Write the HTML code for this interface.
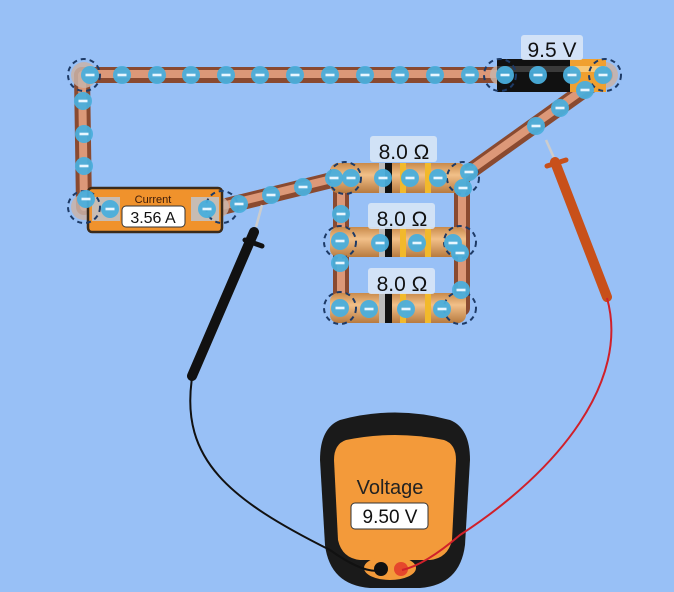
<!DOCTYPE html>
<html><head><meta charset="utf-8"><style>
html,body{margin:0;padding:0;background:#98c0f6;}
svg{display:block;}
text{font-family:"Liberation Sans",sans-serif;}
</style></head><body>
<svg width="674" height="592" viewBox="0 0 674 592" xmlns="http://www.w3.org/2000/svg">
<defs>
<linearGradient id="rs" x1="0" y1="0" x2="0" y2="1">
<stop offset="0" stop-color="#c98a4a"/><stop offset="0.4" stop-color="#f2c089"/><stop offset="1" stop-color="#b77a3f"/></linearGradient>
<g id="e"><circle r="9" fill="#4aaedc" opacity="0.95"/><rect x="-4.5" y="-1.3" width="9" height="2.6" fill="#e8f6ff"/></g>
</defs>
<!-- wires -->
<g stroke-linecap="round" fill="none">
<g stroke="#8a4a30" stroke-width="16">
<line x1="84" y1="75" x2="500" y2="75"/>
<line x1="82" y1="75" x2="84" y2="207"/>
<line x1="222" y1="207" x2="340" y2="178"/>
<line x1="605" y1="75" x2="465" y2="175"/>
<line x1="341" y1="178" x2="341" y2="308"/>
<line x1="462" y1="178" x2="462" y2="308"/>
</g>
<g stroke="#dc9878" stroke-width="8">
<line x1="84" y1="74" x2="500" y2="74"/>
<line x1="82" y1="75" x2="84" y2="207"/>
<line x1="222" y1="206" x2="340" y2="177"/>
<line x1="605" y1="74" x2="465" y2="174"/>
<line x1="341" y1="178" x2="341" y2="308"/>
<line x1="462" y1="178" x2="462" y2="308"/>
</g>
</g>
<g fill="#c9b3a8" opacity="0.85">
<circle cx="84" cy="75" r="13"/><circle cx="84" cy="207" r="13"/><circle cx="605" cy="75" r="13"/><circle cx="500" cy="75" r="10"/>
<circle cx="218" cy="207" r="11"/>
</g>
<!-- resistors -->
<g>
<rect x="330" y="163" width="136" height="30" rx="8" fill="url(#rs)"/>
<rect x="330" y="227" width="136" height="30" rx="8" fill="url(#rs)"/>
<rect x="330" y="293" width="136" height="30" rx="8" fill="url(#rs)"/>
<g fill="#bcbcbc"><rect x="379" y="163" width="6" height="30"/><rect x="379" y="227" width="6" height="30"/><rect x="379" y="293" width="6" height="30"/></g>
<g fill="#111"><rect x="385" y="163" width="7" height="30"/><rect x="385" y="227" width="7" height="30"/><rect x="385" y="293" width="7" height="30"/></g>
<g fill="#f2b92b"><rect x="400" y="163" width="6" height="30"/><rect x="425" y="163" width="6" height="30"/>
<rect x="400" y="227" width="6" height="30"/><rect x="425" y="227" width="6" height="30"/>
<rect x="400" y="293" width="6" height="30"/><rect x="425" y="293" width="6" height="30"/></g>
</g>
<!-- battery -->
<rect x="497" y="59" width="75" height="33" fill="#111"/>
<rect x="497" y="66" width="75" height="6" fill="#3a3a3a"/>
<rect x="570" y="59" width="36" height="33" fill="#f0a030"/>
<rect x="570" y="66" width="36" height="6" fill="#f8c878"/>
<rect x="521" y="35" width="62" height="25" rx="3" fill="#d8e6f7" opacity="0.9"/>
<text x="552" y="57" font-size="21" text-anchor="middle" fill="#111">9.5 V</text>
<g fill="#d8e6f7" opacity="0.9"><rect x="370" y="136" width="67" height="26" rx="3"/><rect x="368" y="203" width="67" height="26" rx="3"/><rect x="368" y="268" width="67" height="26" rx="3"/></g>
<g font-size="21" text-anchor="middle" fill="#111"><text x="404" y="159">8.0 Ω</text><text x="402" y="226">8.0 Ω</text><text x="402" y="291">8.0 Ω</text></g>
<!-- ammeter -->
<rect x="88" y="188" width="134" height="44" rx="4" fill="#f0922c" stroke="#3a2a1a" stroke-width="2.5"/>
<rect x="92" y="197" width="28" height="24" fill="#c7bcb3"/><rect x="191" y="197" width="28" height="24" fill="#c7bcb3"/>
<text x="153" y="203" font-size="11" text-anchor="middle" fill="#3a1a0a">Current</text>
<rect x="122" y="206" width="63" height="21" rx="4" fill="#fff" stroke="#333"/>
<text x="153" y="223" font-size="16" text-anchor="middle" fill="#111">3.56 A</text>
<g fill="none" stroke="#1d3a66" stroke-width="2" stroke-dasharray="5,4">
<circle cx="84" cy="75" r="16"/><circle cx="84" cy="207" r="16"/><circle cx="222" cy="207" r="16"/>
<circle cx="500" cy="75" r="16"/><circle cx="605" cy="75" r="16"/>
<circle cx="345" cy="178" r="16"/><circle cx="463" cy="178" r="16"/>
<circle cx="340" cy="242" r="16"/><circle cx="460" cy="242" r="16"/>
<circle cx="340" cy="308" r="16"/><circle cx="460" cy="308" r="16"/>
</g>
<g>
<use href="#e" x="90" y="75"/><use href="#e" x="122" y="75"/><use href="#e" x="157" y="75"/><use href="#e" x="191" y="75"/><use href="#e" x="226" y="75"/><use href="#e" x="260" y="75"/><use href="#e" x="295" y="75"/><use href="#e" x="330" y="75"/><use href="#e" x="365" y="75"/><use href="#e" x="400" y="75"/><use href="#e" x="435" y="75"/><use href="#e" x="470" y="75"/><use href="#e" x="505" y="75"/><use href="#e" x="538" y="75"/><use href="#e" x="572" y="75"/><use href="#e" x="603" y="75"/>
<use href="#e" x="83" y="101"/><use href="#e" x="84" y="134"/><use href="#e" x="84" y="166"/><use href="#e" x="86" y="199"/><use href="#e" x="110" y="209"/><use href="#e" x="207" y="209"/>
<use href="#e" x="239" y="204"/><use href="#e" x="271" y="195"/><use href="#e" x="303" y="187"/><use href="#e" x="334" y="178"/>
<use href="#e" x="585" y="90"/><use href="#e" x="560" y="108"/><use href="#e" x="536" y="126"/>
<use href="#e" x="351" y="178"/><use href="#e" x="383" y="178"/><use href="#e" x="410" y="178"/><use href="#e" x="438" y="178"/><use href="#e" x="469" y="172"/><use href="#e" x="463" y="188"/>
<use href="#e" x="341" y="214"/><use href="#e" x="340" y="241"/><use href="#e" x="380" y="243"/><use href="#e" x="417" y="243"/><use href="#e" x="453" y="243"/><use href="#e" x="460" y="253"/>
<use href="#e" x="340" y="263"/><use href="#e" x="461" y="290"/><use href="#e" x="340" y="308"/><use href="#e" x="369" y="309"/><use href="#e" x="406" y="309"/><use href="#e" x="442" y="309"/>
</g>
<!-- black probe -->
<line x1="262" y1="205" x2="256" y2="227" stroke="#ccc" stroke-width="2.5"/>
<line x1="254" y1="232" x2="192" y2="376" stroke="#111" stroke-width="10" stroke-linecap="round"/>
<line x1="245" y1="240" x2="262" y2="246" stroke="#111" stroke-width="5" stroke-linecap="round"/>
<!-- red probe -->
<line x1="546" y1="140" x2="554" y2="158" stroke="#ccc" stroke-width="2.5"/>
<line x1="555" y1="162" x2="607" y2="297" stroke="#c8501a" stroke-width="10" stroke-linecap="round"/>
<line x1="547" y1="166" x2="566" y2="160" stroke="#c8501a" stroke-width="5" stroke-linecap="round"/>
<!-- voltmeter -->
<path d="M340 420 Q395 405 450 420 Q470 428 470 460 L465 545 Q460 585 420 588 L370 588 Q330 585 325 545 L320 460 Q320 428 340 420 Z" fill="#1a1a1a"/>
<path d="M346 440 Q395 430 444 440 Q456 444 456 460 L452 540 Q448 558 430 560 L360 560 Q342 558 338 540 L334 460 Q334 444 346 440 Z" fill="#f39a3a"/>
<ellipse cx="390" cy="568" rx="26" ry="12" fill="#f39a3a"/>
<circle cx="381" cy="569" r="7" fill="#111"/><circle cx="401" cy="569" r="7" fill="#e5472c"/>
<text x="390" y="494" font-size="20" text-anchor="middle" fill="#222">Voltage</text>
<rect x="351" y="503" width="77" height="26" rx="4" fill="#fff" stroke="#333"/>
<text x="390" y="523" font-size="19" text-anchor="middle" fill="#111">9.50 V</text>
<!-- probe wires -->
<path d="M192 378 C180 460 230 500 330 550 Q365 575 382 570" fill="none" stroke="#111" stroke-width="2"/>
<path d="M607 298 C630 380 560 470 460 535 Q425 565 402 570" fill="none" stroke="#d0202a" stroke-width="2"/>
</svg>
</body></html>
